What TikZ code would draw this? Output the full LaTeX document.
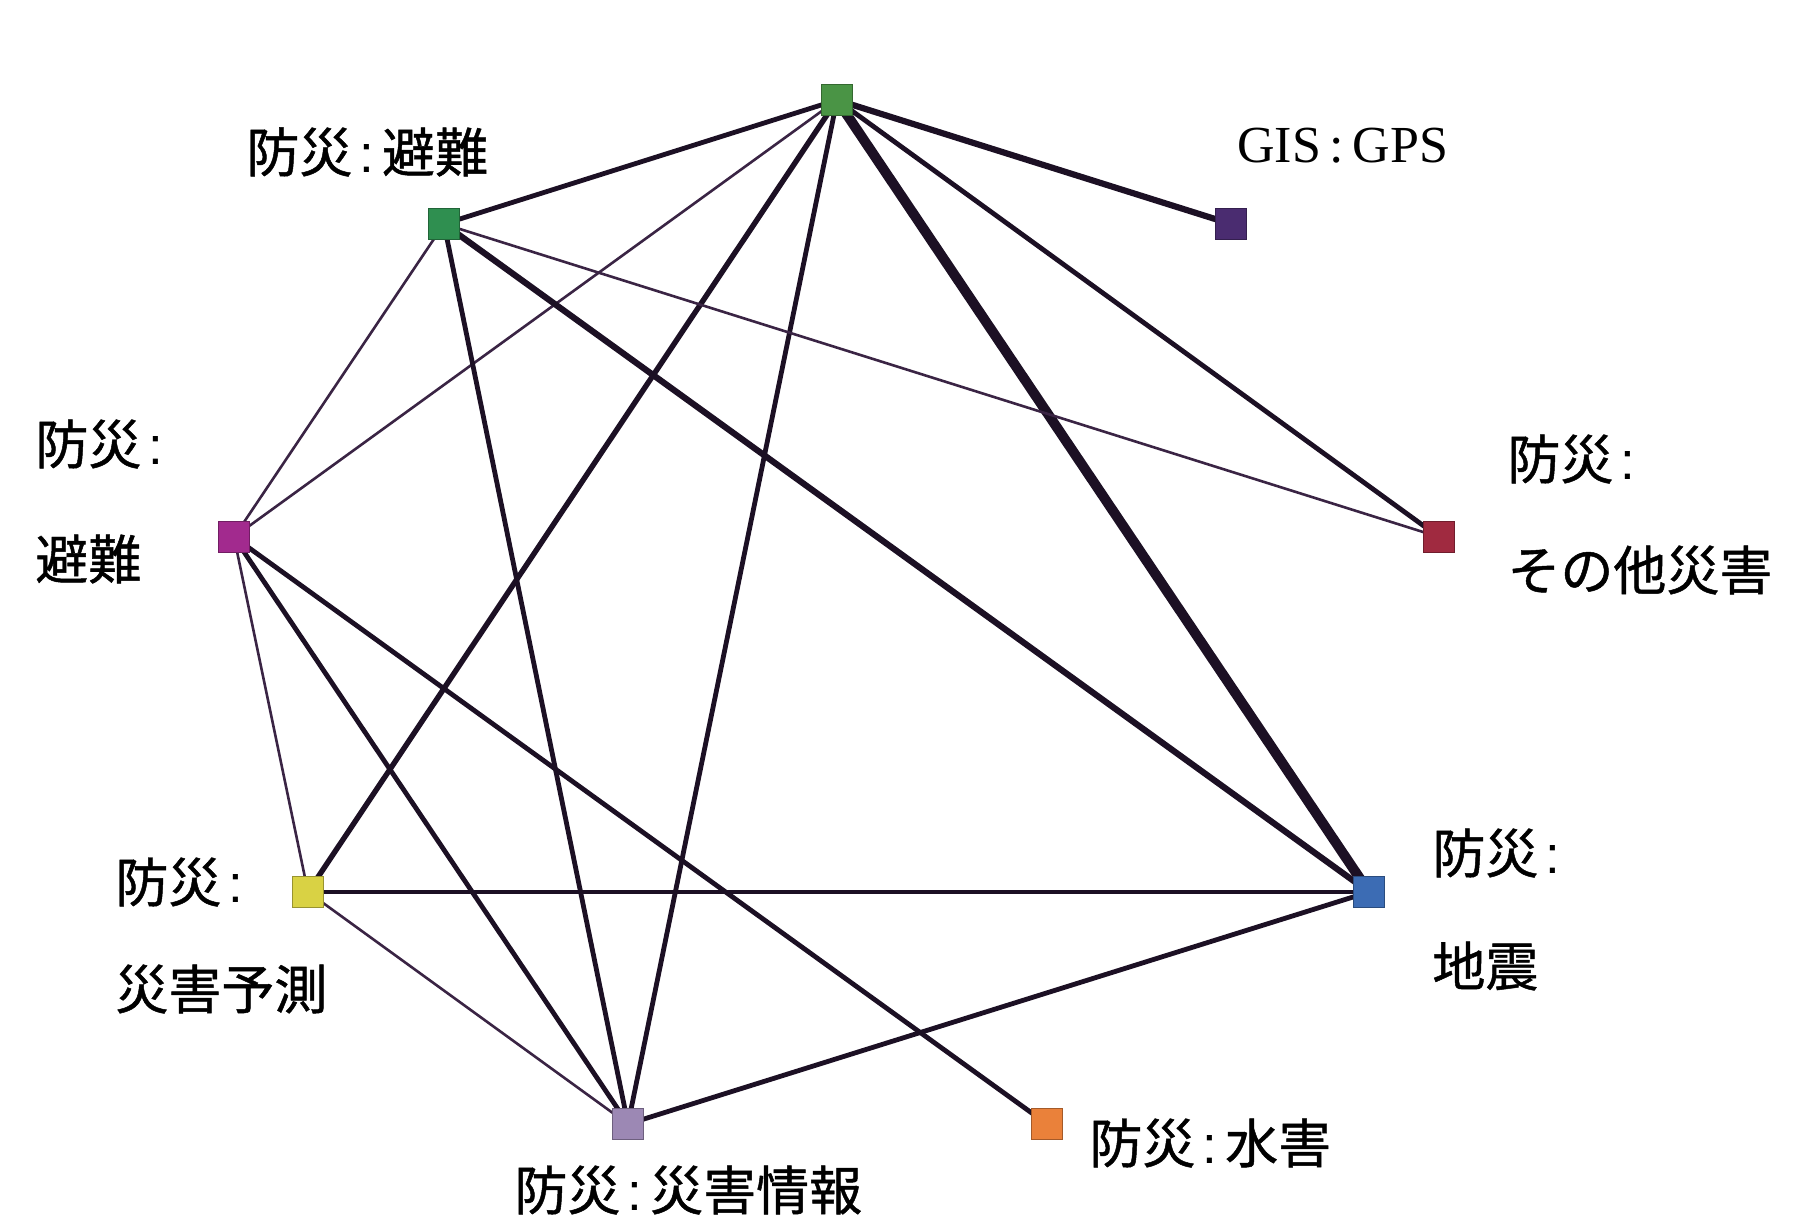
\documentclass[tikz,border=0pt]{standalone}
\usepackage{fontspec}
\newfontfamily\cjk[FakeBold=0.9]{Noto Sans CJK JP}
\newfontfamily\tms{Liberation Serif}
\newfontfamily\lsans{Liberation Sans}
\newcommand{\jcol}{\kern3.5pt{\lsans :}\kern4pt}
\definecolor{edgec}{HTML}{1C1024}
\definecolor{thinc}{HTML}{3A2444}
\definecolor{cTop}{HTML}{4A9445}
\definecolor{cGreen}{HTML}{2F8F50}
\definecolor{cGis}{HTML}{4A2C70}
\definecolor{cMag}{HTML}{A22A8E}
\definecolor{cRed}{HTML}{A02A40}
\definecolor{cYel}{HTML}{D9D244}
\definecolor{cBlue}{HTML}{3C6CB4}
\definecolor{cLav}{HTML}{9C88B4}
\definecolor{cOra}{HTML}{EA813A}
\tikzset{
  sq/.style={draw=#1!70!black, fill=#1, line width=0.6pt, minimum size=15.5pt, inner sep=0pt, shape=rectangle},
  lbl/.style={font=\cjk\fontsize{26.5pt}{30pt}\selectfont, anchor=west, inner sep=0pt},
  thinE/.style={draw=thinc, line width=1.3pt},
  medE/.style={draw=edgec, line width=2.4pt},
  thkE/.style={draw=edgec, line width=3.1pt},
  vthkE/.style={draw=edgec, line width=5pt}
}
\begin{document}
\begin{tikzpicture}[x=0.5pt,y=-0.5pt]
\useasboundingbox (0,0) rectangle (1807,1221);
\fill[white] (0,0) rectangle (1807,1221);
% node coordinates
\coordinate (pT) at (837,100);
\coordinate (pG) at (444,224);
\coordinate (pS) at (1231,224);
\coordinate (pM) at (234,537);
\coordinate (pR) at (1439,537);
\coordinate (pY) at (308,892);
\coordinate (pB) at (1369,892);
\coordinate (pL) at (628,1124);
\coordinate (pO) at (1047,1124);
% edges
\draw[medE] (pT) -- (pG);
\draw[thkE] (pT) -- (pS);
\draw[thinE] (pT) -- (pM);
\draw[medE, line width=2.7pt] (pT) -- (pY);
\draw[medE] (pT) -- (pL);
\draw[vthkE] (pT) -- (pB);
\draw[medE] (pT) -- (pR);
\draw[thinE] (pG) -- (pR);
\draw[thkE] (pG) -- (pB);
\draw[medE] (pG) -- (pL);
\draw[thinE] (pG) -- (pM);
\draw[thinE] (pM) -- (pY);
\draw[medE] (pM) -- (pL);
\draw[medE] (pM) -- (pO);
\draw[medE] (pY) -- (pB);
\draw[thinE] (pY) -- (pL);
\draw[medE] (pL) -- (pB);
% nodes
\node[sq=cTop] (nT) at (pT) {};
\node[sq=cGreen] (nG) at (pG) {};
\node[sq=cGis] (nS) at (pS) {};
\node[sq=cMag] (nM) at (pM) {};
\node[sq=cRed] (nR) at (pR) {};
\node[sq=cYel] (nY) at (pY) {};
\node[sq=cBlue] (nB) at (pB) {};
\node[sq=cLav] (nL) at (pL) {};
\node[sq=cOra] (nO) at (pO) {};
% labels
\node[lbl] (tG) at (246,152) {防災\jcol 避難};
\node[lbl, font=\tms\fontsize{26pt}{30pt}\selectfont] (tS) at (1237,146) {GIS\,:\,GPS};
\node[lbl] (tM1) at (35,444) {防災\jcol};
\node[lbl] (tM2) at (35,559) {避難};
\node[lbl] (tR1) at (1507,459) {防災\jcol};
\node[lbl] (tR2) at (1507,570) {その他災害};
\node[lbl] (tY1) at (115,882) {防災\jcol};
\node[lbl] (tY2) at (115,989) {災害予測};
\node[lbl] (tB1) at (1432,853) {防災\jcol};
\node[lbl] (tB2) at (1432,966) {地震};
\node[lbl] (tL) at (514,1190) {防災\jcol 災害情報};
\node[lbl] (tO) at (1089,1143) {防災\jcol 水害};
\end{tikzpicture}
\end{document}
